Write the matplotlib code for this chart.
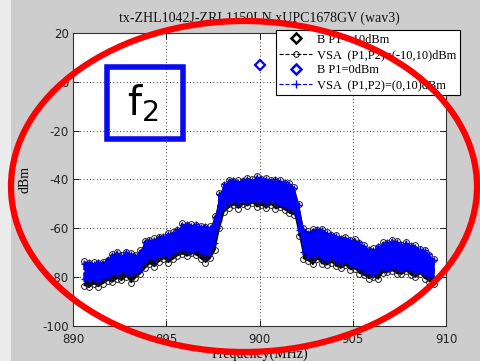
import numpy as np
import matplotlib
matplotlib.use("Agg")
import matplotlib.pyplot as plt
from matplotlib.lines import Line2D
from matplotlib.patches import Ellipse, Rectangle

plt.rcParams["axes.unicode_minus"] = False

# Sample frequencies of the measured spectrum (MHz)
freq = np.round(np.arange(890.6, 909.36, 0.25), 2)

# VSA trace, (P1,P2)=(0,10) dBm: upper and lower extent of the scatter
vsa_blue_hi = [-74.5, -73.8, -74.6, -73.9, -74.2, -72.5, -70.8, -70.2, -70.9, -69.8,
               -70.6, -71.2, -69.5, -65.8, -64.6, -64.9, -63.7, -63.2, -62.4, -61.8,
               -60.3, -58.6, -58.2, -58.9, -58.4, -59.3, -59.0, -59.8, -55.5, -46.0,
               -41.8, -40.6, -40.2, -40.9, -40.1, -39.6, -40.3, -38.9, -39.4, -39.9,
               -40.5, -40.0, -40.8, -41.2, -42.0, -43.4, -50.5, -60.2, -61.8, -60.9,
               -60.3, -60.8, -61.9, -62.5, -63.1, -63.8, -63.9, -64.6, -65.0, -65.7,
               -67.2, -68.6, -68.9, -67.4, -66.3, -65.8, -65.2, -65.6, -66.4, -66.0,
               -66.9, -67.5, -68.3, -69.0, -70.6, -72.8]
vsa_blue_lo = [-80.8, -81.5, -80.6, -81.2, -80.4, -79.6, -78.2, -78.9, -77.6, -78.4,
               -79.0, -77.8, -76.9, -73.8, -72.0, -72.6, -71.4, -70.8, -71.3, -70.2,
               -69.4, -68.3, -68.8, -69.5, -68.6, -69.9, -70.4, -70.1, -66.0, -56.5,
               -50.8, -49.6, -48.9, -49.8, -48.6, -49.3, -48.4, -49.0, -48.7, -49.5,
               -48.8, -49.6, -50.1, -50.7, -51.5, -53.0, -60.5, -69.8, -71.2, -71.8,
               -71.0, -72.4, -72.9, -72.1, -73.5, -74.2, -73.6, -74.8, -75.3, -76.2,
               -77.5, -78.4, -79.0, -77.6, -76.4, -76.9, -75.8, -76.5, -77.2, -76.1,
               -77.0, -77.8, -77.4, -78.6, -79.4, -80.6]

# VSA trace, (P1,P2)=(-10,10) dBm: upper and lower extent of the scatter
vsa_black_hi = [-73.2, -74.0, -73.9, -74.3, -73.6, -72.8, -70.4, -69.6, -71.0, -69.5,
                -70.0, -70.8, -68.9, -65.2, -64.8, -64.1, -63.4, -63.6, -62.0, -61.5,
                -60.6, -57.9, -58.5, -58.3, -58.8, -59.0, -59.4, -59.2, -55.0, -45.5,
                -42.1, -40.2, -40.6, -40.4, -40.5, -39.2, -40.0, -38.6, -39.8, -39.5,
                -40.1, -40.4, -40.3, -41.5, -41.6, -43.0, -50.0, -59.8, -61.2, -60.4,
                -60.6, -60.2, -61.5, -62.8, -62.7, -64.2, -63.4, -64.9, -64.2, -65.9,
                -66.8, -68.9, -68.2, -67.8, -65.8, -66.1, -64.6, -65.2, -66.8, -65.5,
                -67.2, -67.0, -68.5, -68.7, -70.9, -72.4]
vsa_black_lo = [-83.5, -84.2, -82.8, -83.9, -82.6, -81.4, -82.0, -80.6, -81.3, -79.8,
                -82.4, -80.2, -78.6, -76.4, -74.5, -75.8, -73.6, -72.4, -74.0, -72.6,
                -71.2, -70.5, -71.4, -70.2, -71.0, -72.6, -74.0, -72.3, -69.0, -60.0,
                -53.2, -51.5, -50.4, -51.9, -50.2, -50.8, -49.6, -51.2, -50.6, -51.8,
                -50.3, -52.0, -51.4, -52.6, -53.8, -54.5, -63.0, -72.5, -73.4, -74.8,
                -72.6, -74.6, -75.0, -74.0, -75.6, -76.3, -75.2, -77.0, -76.6, -78.5,
                -79.3, -80.6, -79.8, -80.9, -78.2, -78.0, -77.4, -78.6, -78.9, -77.6,
                -79.2, -80.0, -78.7, -80.6, -81.8, -82.6]

# Single-tone "B" measurement
b_freq = [900.0]
b_p1_0dbm = [7.0]

title = "tx-ZHL1042J-ZRL1150LN xUPC1678GV (wav3)"
xticks = [890, 895, 900, 905, 910]
yticks = [-100, -80, -60, -40, -20, 0, 20]
legend_labels = ["B P1=-10dBm", "VSA  (P1,P2)=(-10,10)dBm",
                 "B P1=0dBm", "VSA  (P1,P2)=(0,10)dBm"]


def zigzag(f, hi, lo):
    """Alternate between the upper and lower value at each frequency."""
    xs, ys = [], []
    for fi, h, l in zip(f, hi, lo):
        xs += [fi, fi]
        ys += [h, l]
    return np.array(xs), np.array(ys)


serif = ["Liberation Serif", "DejaVu Serif"]

fig = plt.figure(figsize=(4.81, 3.61), dpi=100)
fig.patch.set_facecolor("#cdcdcd")
fig.patches.append(Rectangle((0, 0), 11 / 481, 1, transform=fig.transFigure,
                             facecolor="#ececec", edgecolor="none", zorder=0))

ax = fig.add_axes([73 / 481, 35 / 361, 373 / 481, 293 / 361])
ax.set_facecolor("white")

# black trace (drawn underneath)
xb, yb = zigzag(freq, vsa_black_hi, vsa_black_lo)
ax.fill_between(freq, vsa_black_lo, vsa_black_hi, color="black", lw=0, zorder=2)
ax.plot(xb, yb, color="black", ls="--", lw=0.8, marker="o", ms=4.2,
        mfc="none", mec="#222222", mew=0.7, zorder=3)

# blue trace
xv, yv = zigzag(freq, vsa_blue_hi, vsa_blue_lo)
ax.fill_between(freq, vsa_blue_lo, vsa_blue_hi, color="#0000ff", lw=0, zorder=4)
ax.plot(xv, yv, color="#0000ff", ls="--", lw=1.2, marker="+", ms=5,
        mew=1.0, zorder=5)

ax.plot(b_freq, b_p1_0dbm, ls="none", marker="D", ms=5, mfc="white",
        mec="#0000ff", mew=1.6, zorder=6)

ax.set_xlim(890, 910)
ax.set_ylim(-100, 20)
ax.set_xticks(xticks)
ax.set_yticks(yticks)
ax.grid(True, color="black", ls=(0, (1, 3)), lw=0.6)
ax.set_axisbelow(True)
ax.tick_params(direction="in", length=4, width=0.6, top=True, right=True,
               labelsize=8.5, labelcolor="#222222")
ax.tick_params(axis="x", pad=5)
ax.tick_params(axis="y", pad=3)
for s in ax.spines.values():
    s.set_linewidth(0.8)
    s.set_color("#333333")

ax.set_title(title, fontsize=10, family=serif, pad=8, color="#111111")
ax.set_xlabel("Frequency(MHz)", fontsize=10, family=serif, labelpad=1)
ax.set_ylabel("dBm", fontsize=10, family=serif, labelpad=8)

handles = [
    Line2D([], [], ls="none", marker="D", ms=5, mfc="white", mec="black", mew=1.8),
    Line2D([], [], ls="--", color="black", lw=0.8, marker="o", ms=4, mfc="none", mew=0.7),
    Line2D([], [], ls="none", marker="D", ms=5, mfc="white", mec="#0000ff", mew=1.8),
    Line2D([], [], ls="--", color="#0000ff", lw=0.8, marker="+", ms=6, mew=1.0),
]
leg = ax.legend(handles, legend_labels, loc="upper right",
                bbox_to_anchor=(1.0375, 1.0102), borderaxespad=0,
                prop={"family": serif, "size": 9}, handlelength=2.6,
                handletextpad=0.4, labelspacing=0.25, borderpad=0.3,
                fancybox=False, framealpha=1, edgecolor="black")
leg.get_frame().set_linewidth(0.8)
leg.set_zorder(10)

# annotation: blue box with f2
fig.patches.append(Rectangle((107 / 481, 1 - 139 / 361), 76 / 481, 72 / 361,
                             transform=fig.transFigure, fill=False,
                             edgecolor="#0a0af0", lw=4, zorder=20))
fig.text(143 / 481, 1 - 104 / 361, "f$_2$", fontsize=29, family="DejaVu Sans",
         ha="center", va="center", zorder=21)

# annotation: red ellipse
fig.patches.append(Ellipse((244 / 481, 1 - 186.5 / 361), 466 / 481, 331 / 361,
                           transform=fig.transFigure, fill=False,
                           edgecolor="#ff0000", lw=4.5, zorder=30))

fig.savefig("out.png", dpi=100, facecolor=fig.get_facecolor())
